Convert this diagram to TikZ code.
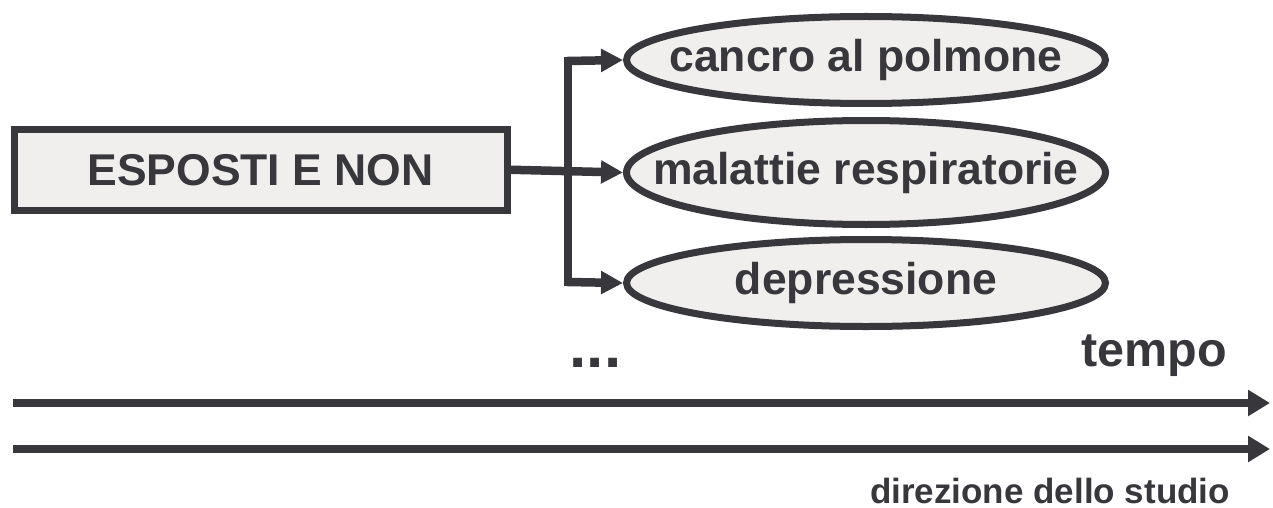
\documentclass[tikz,border=0pt]{standalone}
\usepackage{fontspec}
\setmainfont{Liberation Sans}
\usetikzlibrary{shapes.geometric,arrows.meta}
\definecolor{ink}{RGB}{56,55,60}
\definecolor{pale}{RGB}{240,239,237}
\newcommand{\zerow}[1]{\makebox[0pt][c]{#1}}
\tikzset{
  bigtext/.style={font=\bfseries\fontsize{44.5}{50}\selectfont, text=ink},
  boxnode/.style={draw=ink, fill=pale, line width=7pt, rectangle, inner sep=0pt,
    minimum width=493pt, minimum height=80.5pt, bigtext},
  ovalnode/.style={draw=ink, fill=pale, line width=7pt, ellipse, inner sep=0pt,
    minimum width=479pt, bigtext},
  conn/.style={draw=ink, line width=8.5pt, -{Triangle[length=22pt,width=22pt]}},
  trunk/.style={draw=ink, line width=8pt, line cap=rect},
  timearrow/.style={draw=ink, line width=8pt, -{Triangle[length=22pt,width=25pt]}}
}
\begin{document}
\begin{tikzpicture}[x=1pt,y=-1pt]
\useasboundingbox (0,0) rectangle (1273,508);
\node[boxnode] (box) at (260.5,169.75) {ESPOSTI E NON};
\node[ovalnode, minimum height=87pt] (e1) at (866,60) {\zerow{cancro al polmone}};
\node[ovalnode, minimum height=104pt] (e2) at (866,172.5) {\zerow{malattie respiratorie}};
\node[ovalnode, minimum height=87pt] (e3) at (866,283) {\zerow{depressione}};
\coordinate (t1) at (567.5,61);
\coordinate (t3) at (567.5,282);
\draw[trunk] (t1) -- (t3);
\draw[conn] (t1) -- (e1.west);
\draw[conn] (box.east) -- (e2.west);
\draw[conn] (t3) -- (e3.west);
\node[font=\bfseries\fontsize{62}{66}\selectfont, text=ink, anchor=base] (dots) at (595.5,367) {...};
\node[font=\bfseries\fontsize{48.5}{52}\selectfont, text=ink, anchor=base] (tempo) at (1154,366.7) {tempo};
\coordinate (a1s) at (13,403);
\coordinate (a1e) at (1270,403);
\coordinate (a2s) at (13,449);
\coordinate (a2e) at (1270,449);
\draw[timearrow] (a1s) -- (a1e);
\draw[timearrow] (a2s) -- (a2e);
\node[font=\bfseries\fontsize{35}{40}\selectfont, text=ink, anchor=base] (dir) at (1050,503) {direzione dello studio};
\end{tikzpicture}
\end{document}
